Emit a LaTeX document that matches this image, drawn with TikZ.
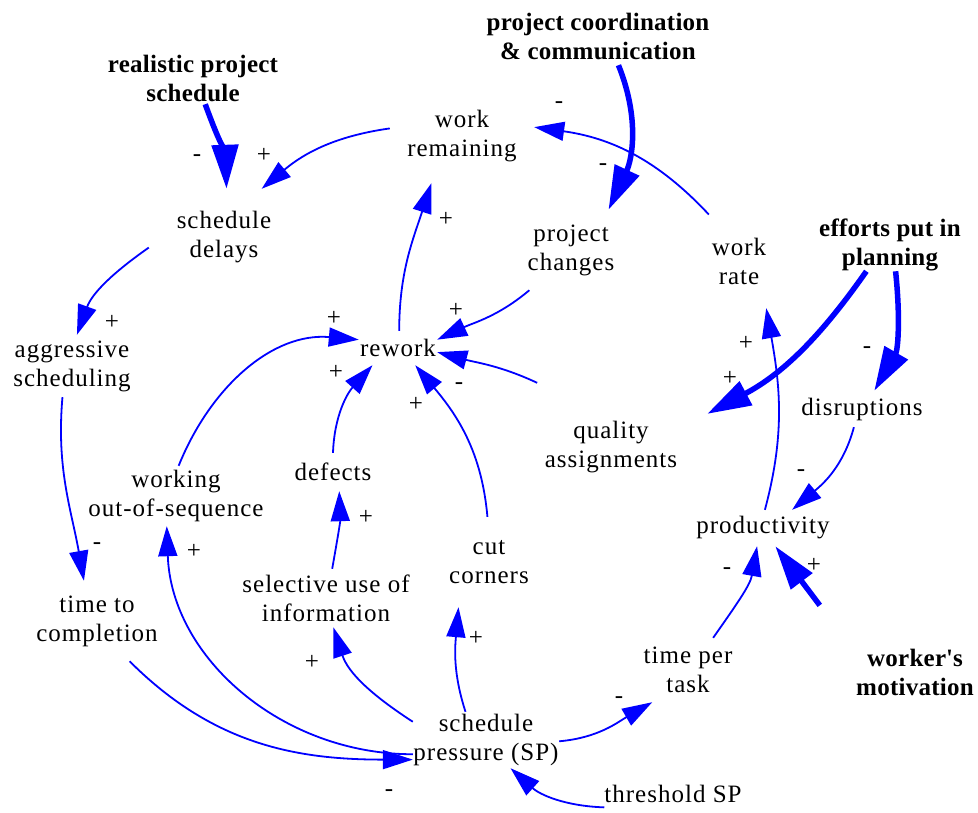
\documentclass[tikz,border=0pt]{standalone}
\usepackage{fontspec}
\setmainfont{Liberation Serif}[LetterSpace=4, BoldFeatures={LetterSpace=1}]
\usetikzlibrary{arrows.meta}
\tikzset{
  v/.style={rectangle, inner sep=0pt, align=center, font=\fontsize{25}{29}\selectfont},
  vb/.style={v, font=\fontsize{25}{29}\selectfont\bfseries},
  bx/.style 2 args={minimum width=#1, minimum height=#2},
  lnk/.style={draw=blue, line width=1.8pt, -{Triangle[length=30pt,width=19pt]}},
  thk/.style={draw=blue, line width=5.5pt, -{Triangle[length=44pt,width=26pt]}},
  sg/.style={font=\fontsize{25}{29}\selectfont, inner sep=0pt},
}
\begin{document}
\begin{tikzpicture}[x=1pt,y=1pt]
\useasboundingbox (0,0) rectangle (978,-812);
% variables
\node[vb,bx={180pt}{52pt}] (rps) at (193,-78) {realistic project\\schedule};
\node[vb,bx={220pt}{58pt}] (pcc) at (598,-36) {project coordination\\\& communication};
\node[v,bx={150pt}{96pt}] (sd) at (224,-237) {schedule\\delays};
\node[v,bx={144pt}{94pt}] (wrem) at (462,-136) {work\\remaining};
\node[v,bx={74pt}{80pt}] (pc) at (571,-250) {project\\changes};
\node[v,bx={60pt}{94pt}] (wrate) at (739,-261) {work\\rate};
\node[vb,bx={150pt}{46pt}] (eff) at (890,-245) {efforts put in\\planning};
\node[v,bx={140pt}{62pt}] (agg) at (72,-366) {aggressive\\scheduling};
\node[v,bx={78pt}{34pt}] (rew) at (398,-348) {rework};
\node[v,bx={192pt}{128pt}] (qa) at (611,-447) {quality\\assignments};
\node[v,bx={124pt}{36pt}] (disr) at (862,-409) {disruptions};
\node[v,bx={180pt}{60pt}] (wos) at (176,-496) {working\\out-of-sequence};
\node[v,bx={80pt}{38pt}] (def) at (333,-472) {defects};
\node[v,bx={130pt}{36pt}] (prod) at (763,-528) {productivity};
\node[v,bx={70pt}{90pt}] (cc) at (489,-562) {cut\\corners};
\node[v,bx={170pt}{58pt}] (siu) at (326,-598) {selective use of\\information};
\node[v,bx={144pt}{80pt}] (ttc) at (97,-621) {time to\\completion};
\node[v,bx={110pt}{64pt}] (tpt) at (688,-670) {time per\\task};
\node[vb,bx={190pt}{134pt}] (wm) at (915,-672) {worker\textquotesingle s\\motivation};
\node[v,bx={146pt}{56pt}] (sp) at (486,-740) {schedule\\pressure (SP)};
\node[v,bx={134pt}{30pt}] (th) at (673,-794) {threshold SP};
% links
\draw[thk] (rps.-65) to[out=-70,in=92] (sd.87);
\draw[lnk] (wrem.174) to[out=188,in=40] (sd.52);
\draw[lnk] (sd.188) to[out=215,in=70] (agg.81);
\draw[lnk] (agg.-107) to[out=-95,in=100] (ttc.108);
\draw[lnk] (ttc.-51) to[out=-45,in=180] (sp.195);
\draw[lnk] (sp.191.5) to[out=180,in=-88] (wos.-107);
\draw[lnk] (wos.85) to[out=68,in=175] (rew.168);
\draw[lnk] (def.90) to[out=88,in=228] (rew.214);
\draw[lnk] (siu.78) to[out=80,in=-88] (def.-72);
\draw[lnk] (sp.166) to[out=147,in=-72] (siu.-76.5);
\draw[lnk] (sp.126) to[out=108,in=-95] (cc.-124);
\draw[lnk] (cc.92) to[out=95,in=-50] (rew.-45);
\draw[lnk] (rew.86) to[out=90,in=-108] (wrem.-123);
\draw[lnk] (pc.-136) to[out=-140,in=25] (rew.12);
\draw[lnk] (qa.139.5) to[out=155,in=-15] (rew.-6);
\draw[thk] (pcc.-55) to[out=-68,in=65] (pc.47);
\draw[lnk] (wrate.123) to[out=133,in=-8] (wrem.7);
\draw[thk] (eff.-132) to[out=-125,in=28] (qa.19.5);
\draw[thk] (eff.-78) to[out=-84,in=60] (disr.56);
\draw[lnk] (prod.84) to[out=75,in=-80] (wrate.-60);
\draw[lnk] (disr.-114) to[out=-105,in=40] (prod.32);
\draw[lnk] (tpt.52) to[out=55,in=-100] (prod.-108);
\draw[thk] (wm.145) -- (prod.-56);
\draw[lnk] (sp.-1.6) to[out=5,in=-150] (tpt.-138);
\draw[lnk] (th.-169) to[out=178,in=-42] (sp.-49);
% polarities
\node[sg] (s1) at (197,-158) {-};
\node[sg] (s2) at (264,-155) {+};
\node[sg] (s3) at (112,-322) {+};
\node[sg] (s4) at (97,-546) {-};
\node[sg] (s5) at (389,-793) {-};
\node[sg] (s6) at (194,-551) {+};
\node[sg] (s7) at (334,-318) {+};
\node[sg] (s8) at (336,-372) {+};
\node[sg] (s9) at (366,-517) {+};
\node[sg] (s10) at (312,-662) {+};
\node[sg] (s11) at (476,-638) {+};
\node[sg] (s12) at (416,-404) {+};
\node[sg] (s13) at (446,-219) {+};
\node[sg] (s14) at (456,-310) {+};
\node[sg] (s15) at (459,-386) {-};
\node[sg] (s16) at (603,-167) {-};
\node[sg] (s17) at (559,-105) {-};
\node[sg] (s18) at (730,-378) {+};
\node[sg] (s19) at (867,-350) {-};
\node[sg] (s20) at (746,-343) {+};
\node[sg] (s21) at (801,-473) {-};
\node[sg] (s22) at (727,-571) {-};
\node[sg] (s23) at (814,-565) {+};
\node[sg] (s24) at (619,-700) {-};
\end{tikzpicture}
\end{document}
